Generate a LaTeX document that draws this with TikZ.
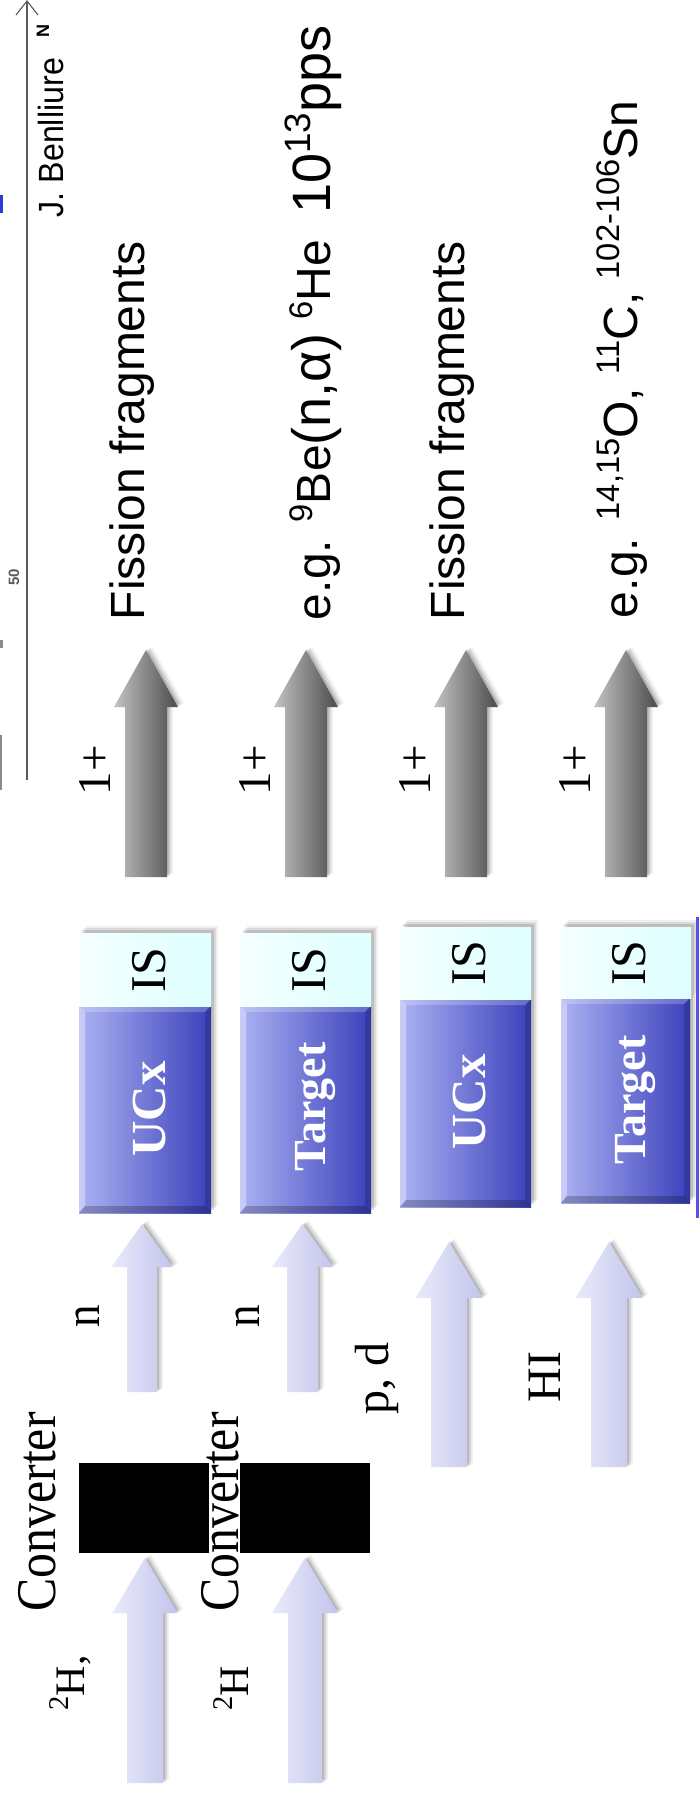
\documentclass[tikz,border=0pt]{standalone}
\usepackage{fontspec}
\setmainfont{Liberation Serif}
\newfontfamily\arialf{Liberation Sans}
\usepackage{graphicx}
\definecolor{lavL}{RGB}{234,234,250}
\definecolor{lavR}{RGB}{194,196,236}
\definecolor{blueL}{RGB}{172,178,242}
\definecolor{blueR}{RGB}{58,64,186}
\definecolor{isL}{RGB}{244,255,255}
\definecolor{isR}{RGB}{222,255,255}
\definecolor{gryL}{RGB}{195,195,195}
\definecolor{gryR}{RGB}{75,75,75}
\definecolor{edgeblue}{RGB}{88,80,230}
\definecolor{axisgray}{RGB}{90,90,90}
\definecolor{markblue}{RGB}{40,60,220}
\newcommand\fsz[1]{\fontsize{#1}{#1}\selectfont}
\newcommand\mysup[1]{\raisebox{0.36em}{\scalebox{0.68}{#1}}}
\newcommand\sq[2]{\scalebox{#1}[1]{#2}}
% #1 style, #2 cx, #3 tip, #4 head base, #5 bottom, #6 head half width, #7 shaft half width
\newcommand\blockarrow[7]{%
  \foreach \o/\op in {6/0.06,4/0.10,2/0.14}{%
    \fill[black,opacity=\op,shift={(\o,-\o*0.6)}] (#2,#3) -- ({#2+#6},#4) -- ({#2+#7},#4) -- ({#2+#7},#5) -- ({#2-#7},#5) -- ({#2-#7},#4) -- ({#2-#6},#4) -- cycle;}
  \path[#1] (#2,#3) -- ({#2+#6},#4) -- ({#2+#7},#4) -- ({#2+#7},#5) -- ({#2-#7},#5) -- ({#2-#7},#4) -- ({#2-#6},#4) -- cycle;
}
\newcommand\softshadow[4]{%
  \foreach \o/\op in {7/0.06,5/0.09,3/0.13}{%
    \fill[black,opacity=\op] ({#1+\o},{#2-\o}) rectangle ({#3+\o},{#4-\o});}
}
\newcommand\bluebox[4]{%
  \softshadow{#1}{#2}{#3}{#4}
  \fill[left color=blueL,right color=blueR] (#1,#2) rectangle (#3,#4);
  \fill[white,opacity=.35] (#1,#2) -- ({#1+6},{#2+6}) -- ({#1+6},{#4-7}) -- (#1,#4) -- cycle;
  \fill[white,opacity=.22] (#1,#2) -- ({#1+6},{#2+6}) -- ({#3-6},{#2+6}) -- (#3,#2) -- cycle;
  \fill[black,opacity=.22] (#1,#4) -- ({#1+6},{#4-7}) -- ({#3-6},{#4-7}) -- (#3,#4) -- cycle;
  \fill[black,opacity=.15] (#3,#2) -- ({#3-6},{#2+6}) -- ({#3-6},{#4-7}) -- (#3,#4) -- cycle;
}
\newcommand\isbox[4]{%
  \softshadow{#1}{#2}{#3}{#4}
  \fill[left color=isL,right color=isR] (#1,#2) rectangle (#3,#4);
}
\tikzset{
  rt/.style={rotate=90, inner sep=0pt, outer sep=0pt},
  lav/.style={left color=lavL, right color=lavR},
  gry/.style={left color=gryL, right color=gryR},
  conv/.style={fill=black},
}
\begin{document}
\begin{tikzpicture}[x=1pt,y=-1pt]
\useasboundingbox (0,0) rectangle (699,1798);
\fill[white] (0,0) rectangle (699,1798);

% ---- cropped chart axis (top left)
\draw[axisgray,line width=1.3pt] (27,780) -- (27,1);
\draw[axisgray,line width=1.1pt] (16,15) -- (27,1) -- (38,15);
\fill[markblue] (0,195) rectangle (3,213);
\fill[axisgray!70] (0,640) rectangle (2.5,648);
\fill[axisgray!70] (0,735) rectangle (2,790);
\node[rt,font=\arialf\bfseries\fsz{18}] (axN) at (43,31) {N};
\node[rt,font=\arialf\bfseries\fsz{15},text=axisgray] (ax50) at (14,577) {50};
\node[rt,anchor=base east,font=\arialf\fsz{35}] (author) at (63,58) {\sq{0.92}{J. Benlliure}};

% ---- converters
\fill[conv] (79,1463) rectangle (209,1553);
\fill[conv] (240,1463) rectangle (370,1553);

% ---- lavender input arrows
\blockarrow{lav}{145}{1558}{1613}{1783}{32.5}{18}
\blockarrow{lav}{305}{1558}{1613}{1783}{33}{17}
\blockarrow{lav}{142}{1224}{1267}{1392}{30.5}{15}
\blockarrow{lav}{302.5}{1224}{1267}{1392}{30.5}{15.5}
\blockarrow{lav}{449}{1242}{1298}{1467}{33.5}{18}
\blockarrow{lav}{609}{1242}{1298}{1467}{33.5}{18}

% ---- targets and ion sources
\bluebox{79}{1006}{211}{1213}
\isbox{79}{933}{211}{1006}
\bluebox{240}{1006}{371}{1213}
\isbox{240}{933}{371}{1006}
\bluebox{400}{999}{531}{1207}
\isbox{400}{927}{531}{999}
\bluebox{561}{998}{690}{1203}
\isbox{561}{927}{691}{998}
\fill[edgeblue] (695.5,917) rectangle (698.5,1218);

% ---- grey output arrows
\blockarrow{gry}{146}{650}{707}{877}{32}{21}
\blockarrow{gry}{306}{650}{707}{877}{32}{21}
\blockarrow{gry}{466}{650}{707}{877}{32}{21}
\blockarrow{gry}{626}{650}{707}{877}{32}{21}

% ---- serif labels
\node[rt,anchor=base,font=\fsz{56}] (conv1) at (55,1512) {\sq{0.89}{Converter}};
\node[rt,anchor=base,font=\fsz{56}] (conv2) at (238,1512) {\sq{0.89}{Converter}};
\node[rt,anchor=base,font=\fsz{42}] (h1) at (84,1683) {\mysup{2}H,};
\node[rt,anchor=base,font=\fsz{42}] (h2) at (248,1688) {\mysup{2}H};
\node[rt,anchor=base,font=\fsz{50}] (n1) at (99,1316) {\sq{0.9}{n}};
\node[rt,anchor=base,font=\fsz{50}] (n2) at (259,1316) {\sq{0.9}{n}};
\node[rt,anchor=base,font=\fsz{48}] (pd) at (388,1378) {p, d};
\node[rt,anchor=base,font=\fsz{48}] (hi) at (560,1377) {HI};
\node[rt,anchor=base,font=\fsz{47}] (q1) at (110,770) {1+};
\node[rt,anchor=base,font=\fsz{47}] (q2) at (270,770) {1+};
\node[rt,anchor=base,font=\fsz{47}] (q3) at (430,770) {1+};
\node[rt,anchor=base,font=\fsz{47}] (q4) at (590,770) {1+};
\node[rt,anchor=base,font=\fsz{50}] (is1) at (165,970) {IS};
\node[rt,anchor=base,font=\fsz{50}] (is2) at (325,970) {IS};
\node[rt,anchor=base,font=\fsz{50}] (is3) at (485,963) {IS};
\node[rt,anchor=base,font=\fsz{50}] (is4) at (645,963) {IS};
\node[rt,anchor=base,font=\bfseries\fsz{49},text=white] (t1) at (165,1109) {UCx};
\node[rt,anchor=base,font=\bfseries\fsz{46},text=white] (t2) at (325,1107) {Target};
\node[rt,anchor=base,font=\bfseries\fsz{49},text=white] (t3) at (485,1102) {UCx};
\node[rt,anchor=base,font=\bfseries\fsz{46},text=white] (t4) at (645,1100) {Target};

% ---- products (sans)
\node[rt,anchor=base west,font=\arialf\fsz{48}] (p1) at (144,620) {Fission fragments};
\node[rt,anchor=base west,font=\arialf\fsz{48}] (p2) at (330,620) {e.g. \mysup{9}Be{\fsz{54}(n,α)} \mysup{6}He~~{\fsz{54}10\mysup{13}pps}};
\node[rt,anchor=base west,font=\arialf\fsz{48}] (p3) at (464,620) {Fission fragments};
\node[rt,anchor=base west,font=\arialf\fsz{48}] (p4) at (637,618) {e.g. \mysup{14,15}O, \mysup{11}C, \mysup{102-106}Sn};
\end{tikzpicture}
\end{document}
